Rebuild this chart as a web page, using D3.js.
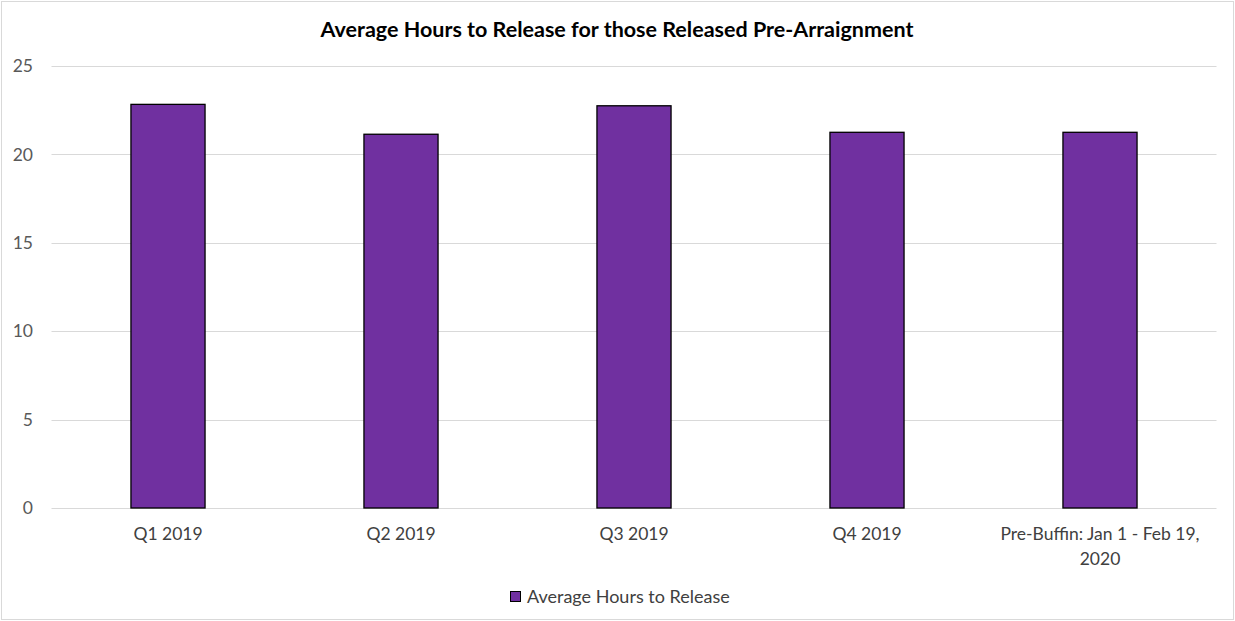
<!DOCTYPE html>
<html><head><meta charset="utf-8">
<script src="https://cdn.jsdelivr.net/npm/d3@7"></script>
<style>body{margin:0;background:#fff}svg{display:block}</style>
</head><body>
<svg id="c" width="1235" height="621"></svg>
<script>
const categories = ["Q1 2019","Q2 2019","Q3 2019","Q4 2019","Pre-Buffin: Jan 1 - Feb 19, 2020"];
const categoryLines = [["Q1 2019"],["Q2 2019"],["Q3 2019"],["Q4 2019"],["Pre-Buffin: Jan 1 - Feb 19,","2020"]];
const values = [22.83, 21.14, 22.75, 21.25, 21.25];
const yTicks = [0,5,10,15,20,25];
const seriesName = "Average Hours to Release";
const title = "Average Hours to Release for those Released Pre-Arraignment";

const svg = d3.select("#c");
const W=1235,H=621;
const font = "Lato, 'Open Sans', sans-serif";
svg.append("rect").attr("x",1.5).attr("y",1.5).attr("width",W-3).attr("height",H-3)
  .attr("fill","#fff").attr("stroke","#d9d9d9").attr("stroke-width",1);

const x = d3.scaleBand().domain(categories).range([51.5,1216.5]).paddingInner(0.682).paddingOuter(0.341);
const y = d3.scaleLinear().domain([0,25]).range([508,66]);

svg.append("text").attr("x",617).attr("y",37).attr("text-anchor","middle")
  .attr("font-family",font).attr("font-weight","bold").attr("font-size",21.5).attr("fill","#000").text(title);

const g = svg.append("g");
g.selectAll("line.grid").data(yTicks).join("line").attr("class","grid")
  .attr("x1",51.5).attr("x2",1216.5).attr("y1",d=>Math.round(y(d))+0.5).attr("y2",d=>Math.round(y(d))+0.5)
  .attr("stroke","#d9d9d9").attr("stroke-width",1);
g.selectAll("text.yt").data(yTicks).join("text").attr("class","yt")
  .attr("x",33).attr("y",d=>y(d)).attr("dy","0.35em").attr("text-anchor","end")
  .attr("font-family",font).attr("font-size",17.5).attr("fill","#595959").text(d=>d);

g.selectAll("rect.bar").data(values).join("rect").attr("class","bar")
  .attr("x",(d,i)=>x(categories[i])).attr("width",x.bandwidth())
  .attr("y",d=>y(d)).attr("height",d=>y(0)-y(d))
  .attr("fill","#7030a0").attr("stroke","#000").attr("stroke-width",1.3);

categories.forEach((c,i)=>{
  const t = g.append("text").attr("text-anchor","middle").attr("font-family",font).attr("font-size",17.5).attr("fill","#404040");
  categoryLines[i].forEach((ln,j)=>{
    t.append("tspan").attr("x",x(c)+x.bandwidth()/2).attr("y",540+j*25).text(ln);
  });
});

const lg = svg.append("g");
lg.append("rect").attr("x",510.5).attr("y",591.5).attr("width",10).attr("height",10)
  .attr("fill","#7030a0").attr("stroke","#000").attr("stroke-width",1);
lg.append("text").attr("x",527).attr("y",603).attr("font-family",font).attr("font-size",18).attr("fill","#404040").text(seriesName);
</script>
</body></html>
